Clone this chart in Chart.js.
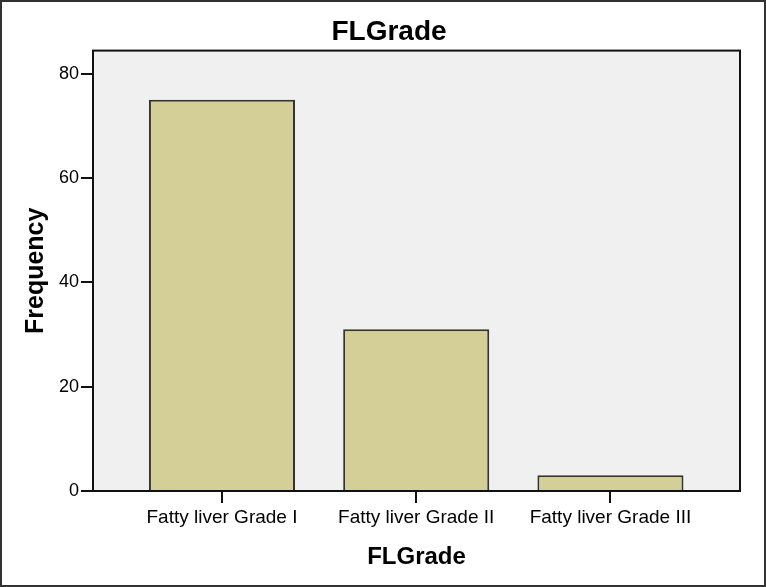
<!DOCTYPE html>
<html>
<head>
<meta charset="utf-8">
<title>FLGrade</title>
<script src="https://cdn.jsdelivr.net/npm/chart.js@4"></script>
<style>
  html, body { margin: 0; padding: 0; background: #fff; }
  canvas { display: block; }
</style>
</head>
<body>
<canvas id="flChart" width="766" height="587"></canvas>
<script>
// data
var categories = ['Fatty liver Grade I', 'Fatty liver Grade II', 'Fatty liver Grade III'];
var frequencies = [75, 31, 3];
var yTicks = [0, 20, 40, 60, 80];

var FONT = "'Liberation Sans', Arial, sans-serif";
var BAR_FILL = '#d3cf96';

/* plot background + box + outer frame */
var framePlugin = {
    id: 'frame',
    beforeDraw: function (chart) {
        var a = chart.chartArea, ctx = chart.ctx;
        ctx.save();
        ctx.fillStyle = '#f0f0f0';
        ctx.fillRect(a.left, a.top, a.right - a.left, a.bottom - a.top);
        ctx.restore();
    },
    afterDraw: function (chart) {
        var a = chart.chartArea, ctx = chart.ctx;
        ctx.save();
        ctx.strokeStyle = '#111';
        ctx.lineWidth = 2;
        ctx.strokeRect(a.left, a.top, a.right - a.left, a.bottom - a.top);
        ctx.strokeStyle = '#333';
        ctx.strokeRect(1, 1, chart.width - 2, chart.height - 2);
        ctx.restore();
    }
};

new Chart(document.getElementById('flChart'), {
    type: 'bar',
    data: {
        datasets: [{
            data: frequencies.map(function (v, i) { return { x: i, y: v }; }),
            backgroundColor: BAR_FILL,
            borderColor: '#333',
            borderWidth: 2,
            categoryPercentage: 1,
            barPercentage: 0.752
        }]
    },
    options: {
        responsive: false,
        animation: false,
        layout: { padding: { left: 12, right: 0, top: 0, bottom: 0 } },
        plugins: {
            legend: { display: false },
            tooltip: { enabled: false },
            title: {
                display: true,
                text: 'FLGrade',
                color: '#000',
                font: { family: FONT, size: 28, weight: 'bold' },
                padding: { top: 15, bottom: 2 }
            }
        },
        scales: {
            x: {
                type: 'linear',
                offset: false,
                min: -0.664,
                max: 2.667,
                afterBuildTicks: function (scale) {
                    scale.ticks = categories.map(function (c, i) { return { value: i }; });
                },
                afterFit: function (scale) { scale.height = 96; },
                grid: { offset: false, drawOnChartArea: false, drawTicks: true, tickLength: 12, color: '#111', lineWidth: 2 },
                border: { display: true, color: '#111', width: 2 },
                ticks: {
                    color: '#000',
                    padding: 3,
                    maxRotation: 0,
                    font: { family: FONT, size: 19 },
                    callback: function (v) { return categories[v]; }
                },
                title: {
                    display: true,
                    text: 'FLGrade',
                    color: '#000',
                    font: { family: FONT, size: 24, weight: 'bold' },
                    padding: { top: 0, bottom: 15 }
                }
            },
            y: {
                min: 0,
                max: 84.4,
                afterBuildTicks: function (scale) {
                    scale.ticks = yTicks.map(function (v) { return { value: v }; });
                },
                afterFit: function (scale) { scale.width = 81; },
                grid: { drawOnChartArea: false, drawTicks: true, tickLength: 12, color: '#111', lineWidth: 2 },
                border: { display: true, color: '#111', width: 2 },
                ticks: {
                    color: '#000',
                    padding: 2,
                    font: { family: FONT, size: 18 }
                },
                title: {
                    display: true,
                    text: 'Frequency',
                    color: '#000',
                    font: { family: FONT, size: 25, weight: 'bold' },
                    padding: { top: 9, bottom: 0 }
                }
            },
            // empty right-hand strip so the box ends where the reference's does
            yRight: {
                position: 'right',
                grid: { display: false },
                border: { display: false },
                ticks: { display: false },
                afterFit: function (scale) { scale.width = 26; }
            }
        }
    },
    plugins: [framePlugin]
});
</script>
</body>
</html>
